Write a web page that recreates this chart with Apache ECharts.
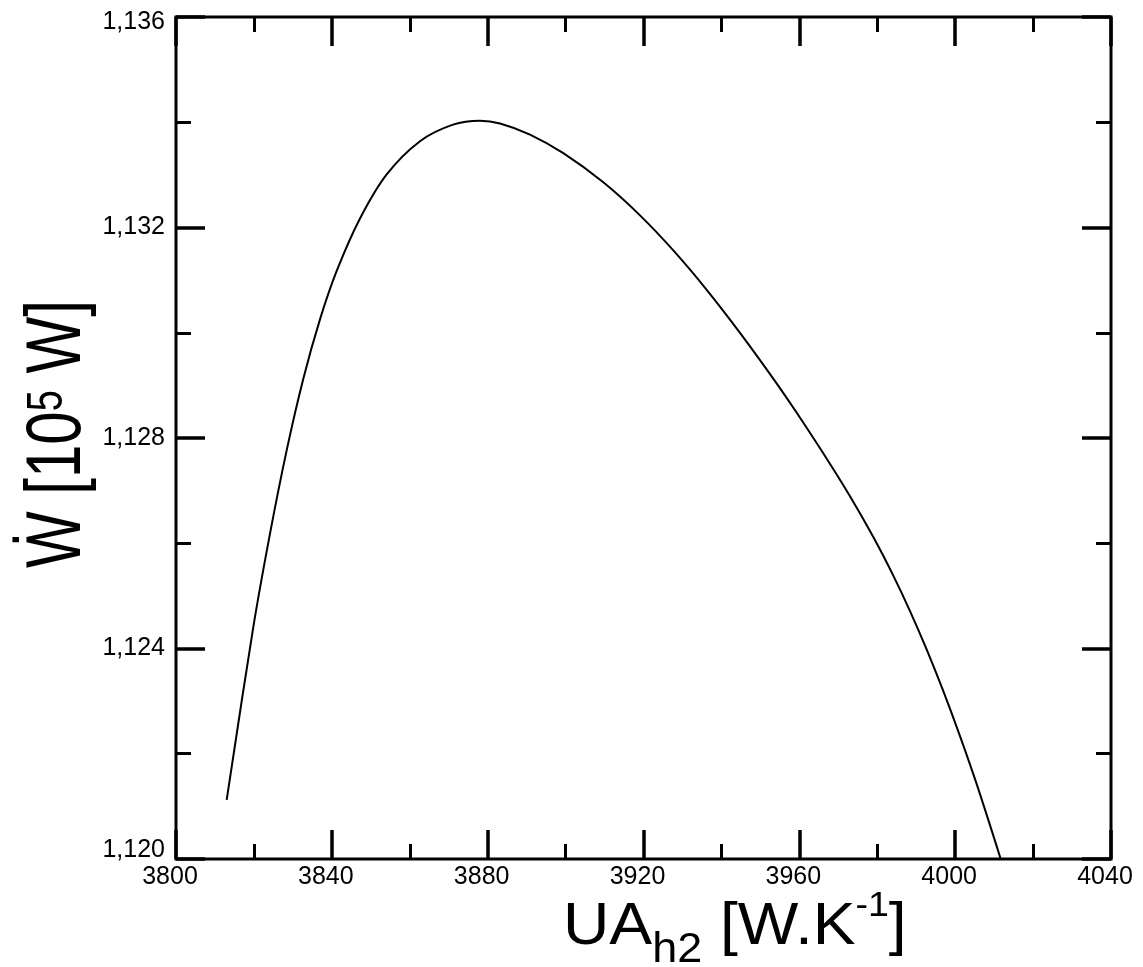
<!DOCTYPE html>
<html>
<head>
<meta charset="utf-8">
<script src="https://cdn.jsdelivr.net/npm/echarts@6/dist/echarts.min.js"></script>
<style>
  html, body { margin: 0; padding: 0; background: #fff; }
  #chart { width: 1143px; height: 967px; }
</style>
</head>
<body>
<div id="chart"></div>
<script>
// ---- data ----
const uaValues = [3813.01, 3819.84, 3824.13, 3828.42, 3832.68, 3836.96, 3841.25, 3847.23, 3854.08, 3862.63, 3871.10, 3878.03,
                  3883.17, 3890.87, 3899.42, 3909.68, 3919.10, 3927.65, 3936.22, 3944.77, 3953.76, 3959.33, 3967.03, 3973.01,
                  3978.99, 3984.12, 3988.41, 3992.70, 3996.96, 4001.24, 4005.53, 4011.69];
const wValues  = [1.121122, 1.124407, 1.126184, 1.127770, 1.129127, 1.130254, 1.131174, 1.132170, 1.133008, 1.133640, 1.133954, 1.134030,
                  1.133977, 1.133766, 1.133412, 1.132858, 1.132231, 1.131565, 1.130817, 1.129999, 1.129082, 1.128479, 1.127607, 1.126893,
                  1.126117, 1.125384, 1.124711, 1.123978, 1.123189, 1.122336, 1.121422, 1.120000];
const xTicks = [3800, 3840, 3880, 3920, 3960, 4000, 4040];
const yTicks = [1.120, 1.124, 1.128, 1.132, 1.136];
const xTitlePieces = [
  { text: 'UA', kind: 'main' }, { text: 'h2', kind: 'sub' },
  { text: ' [W.K', kind: 'main' }, { text: '-1', kind: 'sup' }, { text: ']', kind: 'main' }
];
const yTitlePieces = [
  { text: '\u1E86', kind: 'main' }, { text: ' [10', kind: 'main' },
  { text: '5', kind: 'sup' }, { text: ' W]', kind: 'main' }
];

const FONT = '"Liberation Sans", Arial, "DejaVu Sans", sans-serif';
const seriesData = uaValues.map((x, i) => [x, wValues[i]]);

const mctx = document.createElement('canvas').getContext('2d');
function textWidth(t, size) { mctx.font = size + 'px ' + FONT; return mctx.measureText(t).width; }

function buildTitle(pieces, sizes, offsets, pos) {
  let cx = 0;
  const children = [];
  pieces.forEach(p => {
    const size = sizes[p.kind];
    children.push({
      type: 'text', x: cx, y: offsets[p.kind] - 0.3465 * size,
      style: { text: p.text, font: size + 'px ' + FONT, fill: '#000', align: 'left', verticalAlign: 'middle' }
    });
    cx += textWidth(p.text, size);
  });
  return Object.assign({ type: 'group', children: children }, pos);
}

const chart = echarts.init(document.getElementById('chart'), null, { renderer: 'canvas' });

const tickCommon = {
  show: true, inside: true, length: 29,
  lineStyle: { color: '#000', width: 3.5 }
};
const minorCommon = {
  show: true, splitNumber: 2, length: 15,
  lineStyle: { color: '#000', width: 3 }
};

const yFmt = v => v.toFixed(3).replace('.', ',');

chart.setOption({
  animation: false,
  backgroundColor: '#fff',
  grid: { left: 176, right: 32, top: 17, bottom: 108, show: true, borderColor: '#000', borderWidth: 3, backgroundColor: 'transparent' },
  xAxis: [
    { type: 'value', min: xTicks[0], max: xTicks[xTicks.length - 1], interval: 40, position: 'bottom',
      axisLine: { show: false }, axisTick: tickCommon, minorTick: minorCommon,
      splitLine: { show: false }, minorSplitLine: { show: false },
      axisLabel: { show: true, fontSize: 25, fontFamily: FONT, color: '#000', margin: 6, padding: [0, 12, 0, 0],
                   showMinLabel: true, showMaxLabel: true, formatter: v => String(v) } },
    { type: 'value', min: xTicks[0], max: xTicks[xTicks.length - 1], interval: 40, position: 'top',
      axisLine: { show: false }, axisTick: tickCommon, minorTick: minorCommon,
      splitLine: { show: false }, axisLabel: { show: false } }
  ],
  yAxis: [
    { type: 'value', min: yTicks[0], max: yTicks[yTicks.length - 1], interval: 0.004, position: 'left',
      axisLine: { show: false }, axisTick: tickCommon, minorTick: minorCommon,
      splitLine: { show: false }, minorSplitLine: { show: false },
      axisLabel: { show: true, fontSize: 25, fontFamily: FONT, color: '#000', margin: 11,
                   showMinLabel: true, showMaxLabel: true,
                   formatter: v => {
                     const s = yFmt(v);
                     if (Math.abs(v - yTicks[0]) < 1e-9) return '{lo|' + s + '}';
                     if (Math.abs(v - yTicks[yTicks.length - 1]) < 1e-9) return '{hi|' + s + '}';
                     return s;
                   },
                   rich: {
                     lo: { fontSize: 25, fontFamily: FONT, color: '#000', padding: [0, 0, 18, 0] },
                     hi: { fontSize: 25, fontFamily: FONT, color: '#000', padding: [10, 0, 0, 0] }
                   } } },
    { type: 'value', min: yTicks[0], max: yTicks[yTicks.length - 1], interval: 0.004, position: 'right',
      axisLine: { show: false }, axisTick: tickCommon, minorTick: minorCommon,
      splitLine: { show: false }, axisLabel: { show: false } }
  ],
  series: [{
    type: 'line', xAxisIndex: 0, yAxisIndex: 0,
    data: seriesData, showSymbol: false, smooth: 0.33,
    lineStyle: { color: '#000', width: 2 }
  }],
  graphic: [
    buildTitle(xTitlePieces, { main: 60, sub: 42, sup: 35 }, { main: 0, sub: 17, sup: -30 },
               { x: 563, y: 948, scaleX: 1.07 }),
    buildTitle(yTitlePieces, { main: 60, sup: 38 }, { main: 0, sup: -16 },
               { x: 86, y: 568, rotation: Math.PI / 2, scaleY: 1.3 })
  ]
});
</script>
</body>
</html>
